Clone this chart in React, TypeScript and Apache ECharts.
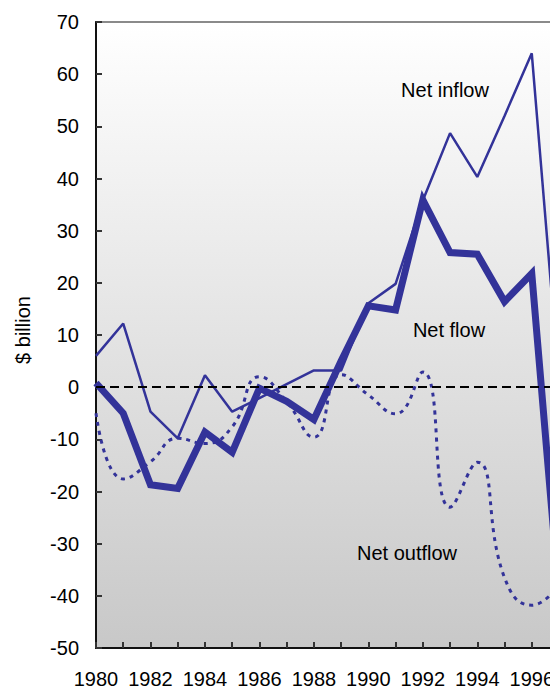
import React, { useEffect, useRef } from "react";
import * as echarts from "echarts";

const years = ["1980","1981","1982","1983","1984","1985","1986","1987","1988","1989","1990","1991","1992","1993","1994","1995","1996","1997"];
const netInflow = [6, 12.2, -4.7, -9.8, 2.3, -4.7, -2.1, 0.6, 3.2, 3.2, 16.1, 19.8, 35.8, 48.7, 40.3, 52, 64, 1];
const netFlow = [0.8, -5, -18.7, -19.4, -8.6, -12.5, -0.2, -2.7, -6.2, 5, 15.6, 14.8, 35.9, 25.8, 25.5, 16.4, 21.8, -40];
const netOutflow = [-5, -17.6, -14.3, -9.8, -10.8, -7.6, 2, -2.8, -9.6, 2.4, -1.5, -5.1, 2.9, -23, -14.4, -36.5, -41.8, -38];
const yTicks = { min: -50, max: 70, interval: 10 };

const FONT = "'Liberation Sans', Arial, sans-serif";
const BLUE = "#333399";

export default function App() {
  const ref = useRef<HTMLDivElement>(null);
  useEffect(() => {
    if (!ref.current) return;
    const chart = echarts.init(ref.current, undefined, { renderer: "svg" });
    chart.setOption({
      animation: false,
      textStyle: { fontFamily: FONT },
      grid: {
        left: 96,
        top: 22,
        right: 41,
        bottom: 43,
        show: true,
        borderColor: "#8a8a8a",
        borderWidth: 2,
        backgroundColor: new echarts.graphic.LinearGradient(0, 0, 0, 1, [
          { offset: 0, color: "#ffffff" },
          { offset: 1, color: "#c8c8c8" },
        ]),
      },
      xAxis: {
        type: "category",
        data: years,
        boundaryGap: false,
        axisLine: { onZero: false, lineStyle: { color: "#111", width: 2 } },
        axisTick: { inside: true, length: 6, interval: 0, lineStyle: { color: "#333", width: 2 } },
        axisLabel: { interval: 1, color: "#000", fontSize: 20, margin: 21, fontFamily: FONT },
        splitLine: { show: false },
      },
      yAxis: {
        type: "value",
        min: yTicks.min,
        max: yTicks.max,
        interval: yTicks.interval,
        axisLine: { show: true, lineStyle: { color: "#111", width: 2 } },
        axisTick: { show: true, inside: true, length: 6, lineStyle: { color: "#333", width: 2 } },
        axisLabel: { color: "#000", fontSize: 20, margin: 17, fontFamily: FONT },
        splitLine: { show: false },
      },
      series: [
        {
          name: "Net outflow",
          type: "line",
          data: netOutflow,
          smooth: true,
          showSymbol: false,
          lineStyle: { color: BLUE, width: 3, type: [4, 5] },
          z: 2,
        },
        {
          name: "Net inflow",
          type: "line",
          data: netInflow,
          showSymbol: false,
          lineStyle: { color: BLUE, width: 2.5 },
          z: 3,
          markLine: {
            silent: true,
            symbol: "none",
            label: { show: false },
            lineStyle: { color: "#000", width: 2, type: [9, 5] },
            data: [{ yAxis: 0 }],
          },
        },
        {
          name: "Net flow",
          type: "line",
          data: netFlow,
          showSymbol: false,
          lineStyle: { color: BLUE, width: 7, join: "miter" },
          z: 4,
        },
      ],
      graphic: [
        {
          type: "text",
          x: 23,
          y: 330,
          rotation: Math.PI / 2,
          style: { text: "$ billion", fontSize: 20, fontFamily: FONT, fill: "#000", align: "center", verticalAlign: "middle" },
        },
        {
          type: "text",
          x: 445,
          y: 90,
          style: { text: "Net inflow", fontSize: 20, fontFamily: FONT, fill: "#000", align: "center", verticalAlign: "middle" },
        },
        {
          type: "text",
          x: 449,
          y: 330,
          style: { text: "Net flow", fontSize: 20, fontFamily: FONT, fill: "#000", align: "center", verticalAlign: "middle" },
        },
        {
          type: "text",
          x: 407,
          y: 553,
          style: { text: "Net outflow", fontSize: 20, fontFamily: FONT, fill: "#000", align: "center", verticalAlign: "middle" },
        },
      ],
    });
    return () => chart.dispose();
  }, []);
  return (
    <div style={{ position: "fixed", left: 0, top: 0, width: 550, height: 691, overflow: "hidden", background: "#fff" }}>
      <div ref={ref} style={{ width: 600, height: 691 }} />
    </div>
  );
}
